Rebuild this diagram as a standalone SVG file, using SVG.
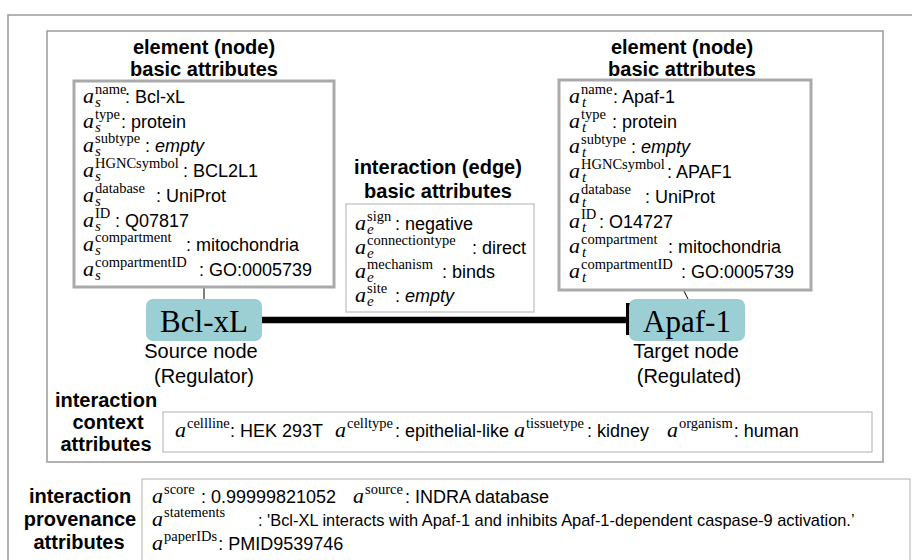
<svg xmlns="http://www.w3.org/2000/svg" width="912" height="560" viewBox="0 0 912 560">
<style>
.frame{fill:none;stroke:#9a9a9a;stroke-width:1.5}
.abox{fill:#fff;stroke:#aaaaaa;stroke-width:3}
.tbox{fill:#fff;stroke:#bdbdbd;stroke-width:1.2}
.h{font-family:"Liberation Sans",Arial,sans-serif;font-weight:bold;font-size:20px;fill:#000;text-anchor:middle}
.lbl{font-family:"Liberation Sans",Arial,sans-serif;font-size:20px;fill:#000;text-anchor:middle}
.t{font-family:"Liberation Sans",Arial,sans-serif;font-size:18px;fill:#000}
.a{font-family:"Liberation Serif","Times New Roman",serif;font-style:italic;font-size:22px}
.sup{font-family:"Liberation Serif","Times New Roman",serif;font-style:normal;font-size:14.5px}
.sub{font-family:"Liberation Serif","Times New Roman",serif;font-style:italic;font-size:15px}
.em{font-style:italic}
.node{fill:#9ccfd4}
.nt{font-family:"Liberation Serif","Times New Roman",serif;font-size:31px;fill:#000;text-anchor:middle}
.thin{stroke:#000;stroke-width:1;fill:none}
</style>

<rect class="frame" x="8" y="15" width="930" height="570"/>
<rect class="frame" x="47" y="31" width="836" height="431"/>

<g id="connectors">
  <line class="thin" x1="204" y1="288" x2="204" y2="299"/>
  <line class="thin" x1="684" y1="291" x2="688" y2="299"/>
  <line x1="262" y1="320" x2="628" y2="320" stroke="#000" stroke-width="6.5"/>
  <rect x="626" y="303" width="7" height="32" fill="#000"/>
</g>

<g id="source-attributes">
  <text class="h" x="204" y="54">element (node)</text>
  <text class="h" x="204" y="76">basic attributes</text>
  <rect class="abox" x="74" y="81" width="260" height="206"/>
  <g class="t">
    <text y="103"><tspan class="a" x="83">a</tspan><tspan class="sup" x="95" dy="-9">name</tspan><tspan class="sub" x="95" dy="13">s</tspan><tspan x="125" dy="-4">: Bcl-xL</tspan></text>
    <text y="127.7"><tspan class="a" x="83">a</tspan><tspan class="sup" x="95" dy="-9">type</tspan><tspan class="sub" x="95" dy="13">s</tspan><tspan x="121" dy="-4">: protein</tspan></text>
    <text y="152.4"><tspan class="a" x="83">a</tspan><tspan class="sup" x="95" dy="-9">subtype</tspan><tspan class="sub" x="95" dy="13">s</tspan><tspan x="145" dy="-4">: <tspan class="em">empty</tspan></tspan></text>
    <text y="177.1"><tspan class="a" x="83">a</tspan><tspan class="sup" x="95" dy="-9">HGNCsymbol</tspan><tspan class="sub" x="95" dy="13">s</tspan><tspan x="183" dy="-4">: BCL2L1</tspan></text>
    <text y="201.8"><tspan class="a" x="83">a</tspan><tspan class="sup" x="95" dy="-9">database</tspan><tspan class="sub" x="95" dy="13">s</tspan><tspan x="156" dy="-4">: UniProt</tspan></text>
    <text y="226.5"><tspan class="a" x="83">a</tspan><tspan class="sup" x="95" dy="-9">ID</tspan><tspan class="sub" x="95" dy="13">s</tspan><tspan x="115" dy="-4">: Q07817</tspan></text>
    <text y="251.2"><tspan class="a" x="83">a</tspan><tspan class="sup" x="95" dy="-9">compartment</tspan><tspan class="sub" x="95" dy="13">s</tspan><tspan x="186" dy="-4">: mitochondria</tspan></text>
    <text y="275.9"><tspan class="a" x="83">a</tspan><tspan class="sup" x="95" dy="-9">compartmentID</tspan><tspan class="sub" x="95" dy="13">s</tspan><tspan x="199" dy="-4">: GO:0005739</tspan></text>
  </g>
</g>

<g id="target-attributes">
  <text class="h" x="682" y="54">element (node)</text>
  <text class="h" x="682" y="76">basic attributes</text>
  <rect class="abox" x="559" y="80" width="252" height="210"/>
  <g class="t">
    <text y="103"><tspan class="a" x="569">a</tspan><tspan class="sup" x="581" dy="-9">name</tspan><tspan class="sub" x="582" dy="13">t</tspan><tspan x="613" dy="-4">: Apaf-1</tspan></text>
    <text y="128"><tspan class="a" x="569">a</tspan><tspan class="sup" x="581" dy="-9">type</tspan><tspan class="sub" x="582" dy="13">t</tspan><tspan x="612" dy="-4">: protein</tspan></text>
    <text y="153"><tspan class="a" x="569">a</tspan><tspan class="sup" x="581" dy="-9">subtype</tspan><tspan class="sub" x="582" dy="13">t</tspan><tspan x="631" dy="-4">: <tspan class="em">empty</tspan></tspan></text>
    <text y="178"><tspan class="a" x="569">a</tspan><tspan class="sup" x="581" dy="-9">HGNCsymbol</tspan><tspan class="sub" x="582" dy="13">t</tspan><tspan x="667" dy="-4">: APAF1</tspan></text>
    <text y="203"><tspan class="a" x="569">a</tspan><tspan class="sup" x="581" dy="-9">database</tspan><tspan class="sub" x="582" dy="13">t</tspan><tspan x="645" dy="-4">: UniProt</tspan></text>
    <text y="228"><tspan class="a" x="569">a</tspan><tspan class="sup" x="581" dy="-9">ID</tspan><tspan class="sub" x="582" dy="13">t</tspan><tspan x="599" dy="-4">: O14727</tspan></text>
    <text y="253"><tspan class="a" x="569">a</tspan><tspan class="sup" x="581" dy="-9">compartment</tspan><tspan class="sub" x="582" dy="13">t</tspan><tspan x="668" dy="-4">: mitochondria</tspan></text>
    <text y="278"><tspan class="a" x="569">a</tspan><tspan class="sup" x="581" dy="-9">compartmentID</tspan><tspan class="sub" x="582" dy="13">t</tspan><tspan x="681" dy="-4">: GO:0005739</tspan></text>
  </g>
</g>

<g id="edge-attributes">
  <text class="h" x="438" y="174">interaction (edge)</text>
  <text class="h" x="438" y="198">basic attributes</text>
  <rect class="tbox" x="346" y="204" width="188" height="108"/>
  <g class="t">
    <text y="230"><tspan class="a" x="355">a</tspan><tspan class="sup" x="367" dy="-9">sign</tspan><tspan class="sub" x="367" dy="13">e</tspan><tspan x="395" dy="-4">: negative</tspan></text>
    <text y="254"><tspan class="a" x="355">a</tspan><tspan class="sup" x="367" dy="-9">connectiontype</tspan><tspan class="sub" x="367" dy="13">e</tspan><tspan x="472" dy="-4">: direct</tspan></text>
    <text y="278"><tspan class="a" x="355">a</tspan><tspan class="sup" x="367" dy="-9">mechanism</tspan><tspan class="sub" x="367" dy="13">e</tspan><tspan x="442" dy="-4">: binds</tspan></text>
    <text y="302"><tspan class="a" x="355">a</tspan><tspan class="sup" x="367" dy="-9">site</tspan><tspan class="sub" x="367" dy="13">e</tspan><tspan x="395" dy="-4">: <tspan class="em">empty</tspan></tspan></text>
  </g>
</g>

<g id="node-bclxl">
  <rect class="node" x="146" y="299" width="116" height="42" rx="7"/>
  <text class="nt" x="204" y="332">Bcl-xL</text>
  <text class="lbl" x="201" y="358">Source node</text>
  <text class="lbl" x="204" y="383">(Regulator)</text>
</g>

<g id="node-apaf1">
  <rect class="node" x="629" y="299" width="116" height="42" rx="7"/>
  <text class="nt" x="687" y="332">Apaf-1</text>
  <text class="lbl" x="686" y="358">Target node</text>
  <text class="lbl" x="689" y="383">(Regulated)</text>
</g>

<g id="context-attributes">
  <text class="h" x="106" y="407">interaction</text>
  <text class="h" x="108" y="429">context</text>
  <text class="h" x="106" y="451">attributes</text>
  <rect class="tbox" x="163" y="412" width="709" height="40"/>
  <text class="t" y="437"><tspan class="a" x="175">a</tspan><tspan class="sup" x="187" dy="-9">cellline</tspan><tspan x="230" dy="9">: HEK 293T</tspan><tspan class="a" x="335">a</tspan><tspan class="sup" x="347" dy="-9">celltype</tspan><tspan x="395" dy="9">: epithelial-like</tspan><tspan class="a" x="514">a</tspan><tspan class="sup" x="526" dy="-9">tissuetype</tspan><tspan x="587" dy="9">: kidney</tspan><tspan class="a" x="667">a</tspan><tspan class="sup" x="679" dy="-9">organism</tspan><tspan dx="1" dy="9">: human</tspan></text>
</g>

<g id="provenance-attributes">
  <text class="h" x="80" y="503">interaction</text>
  <text class="h" x="80" y="526">provenance</text>
  <text class="h" x="79" y="549">attributes</text>
  <rect class="tbox" x="142" y="479" width="768" height="95"/>
  <g class="t">
    <text y="503"><tspan class="a" x="152">a</tspan><tspan class="sup" x="164" dy="-9">score</tspan><tspan x="201" dy="9">: 0.99999821052</tspan><tspan class="a" x="353">a</tspan><tspan class="sup" x="365" dy="-9">source</tspan><tspan x="405" dy="9">: INDRA database</tspan></text>
    <text y="526"><tspan class="a" x="152">a</tspan><tspan class="sup" x="164" dy="-9">statements</tspan><tspan x="258" dy="9" style="font-size:16.4px">: 'Bcl-XL interacts with Apaf-1 and inhibits Apaf-1-dependent caspase-9 activation.’</tspan></text>
    <text y="550"><tspan class="a" x="152">a</tspan><tspan class="sup" x="164" dy="-9">paperIDs</tspan><tspan dx="1" dy="9">: PMID9539746</tspan></text>
  </g>
</g>
</svg>
